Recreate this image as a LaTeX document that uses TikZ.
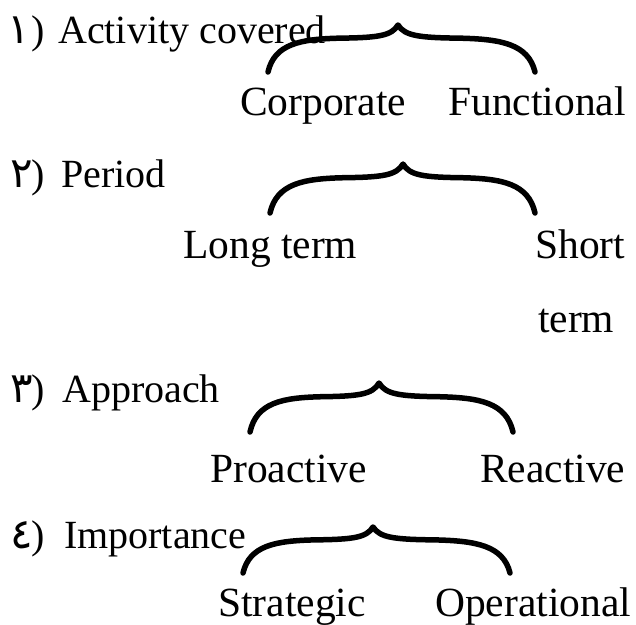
\documentclass[tikz,border=0pt]{standalone}
\usepackage{fontspec}
\setmainfont{Liberation Serif}
\newfontfamily\arabicfont[Script=Arabic]{DejaVu Sans}

% Curly brace opening downwards: #1 left x, #2 tip x, #3 right x, #4 tip y, #5 end y
\newcommand\curlybrace[5]{%
  \pgfmathsetmacro\braceh{#5-#4}%
  \pgfmathsetmacro\bracem{#4+0.28*\braceh}%
  \pgfmathsetmacro\bracewl{#2-#1}%
  \pgfmathsetmacro\bracewr{#3-#2}%
  \draw[bracestroke]
    (#1,#5) .. controls ({#1+0.05*\bracewl},{#5-0.6*\braceh}) and ({#1+0.25*\bracewl},{\bracem+0.02*\braceh}) .. ({#1+0.55*\bracewl},\bracem)
    .. controls ({#1+0.85*\bracewl},{\bracem-0.01*\braceh}) and ({#2-0.05*\bracewl},{\bracem-0.05*\braceh}) .. (#2,#4)
    .. controls ({#2+0.05*\bracewr},{\bracem-0.05*\braceh}) and ({#3-0.85*\bracewr},{\bracem-0.01*\braceh}) .. ({#3-0.55*\bracewr},\bracem)
    .. controls ({#3-0.25*\bracewr},{\bracem+0.02*\braceh}) and ({#3-0.05*\bracewr},{#5-0.6*\braceh}) .. (#3,#5);
}

\begin{document}
\begin{tikzpicture}[x=1pt,y=-1pt,
  bracestroke/.style={line width=5.5pt,line cap=round,line join=round},
  numeral/.style={anchor=base,inner sep=0pt,font=\arabicfont\fontsize{42}{48}\selectfont},
  paren/.style={anchor=base west,inner sep=0pt,font=\fontsize{40}{48}\selectfont},
  heading/.style={anchor=base west,inner sep=0pt,font=\fontsize{40}{48}\selectfont},
  item/.style={anchor=base west,inner sep=0pt,font=\fontsize{41.5}{50}\selectfont}]
  \fill[white] (0,0) rectangle (636,624);
  \useasboundingbox (0,0) rectangle (636,624);

  % 1) Activity covered
  \node[numeral] (n1) at (19,43) {١};
  \node[paren] (p1) at (31,43) {)};
  \node[heading] (h1) at (58,43) {Activity covered};
  \curlybrace{268}{398}{535}{25}{72}
  \node[item] (corp) at (240,115) {Corporate};
  \node[item] (func) at (448,115) {Functional};

  % 2) Period
  \node[numeral] (n2) at (22,187) {٢};
  \node[paren] (p2) at (31,187) {)};
  \node[heading] (h2) at (61,187) {Period};
  \curlybrace{270}{403}{535}{164}{213}
  \node[item] (long) at (183,258) {Long term};
  \node[item] (short) at (535,258) {Short};
  \node[item] (shortb) at (538,332) {term};

  % 3) Approach
  \node[numeral] (n3) at (22,402) {٣};
  \node[paren] (p3) at (31,402) {)};
  \node[heading] (h3) at (62,402) {Approach};
  \curlybrace{250}{379}{513}{383}{432}
  \node[item] (pro) at (210,482) {Proactive};
  \node[item] (re) at (480,482) {Reactive};

  % 4) Importance
  \node[numeral] (n4) at (22,548) {٤};
  \node[paren] (p4) at (31,548) {)};
  \node[heading] (h4) at (64,548) {Importance};
  \curlybrace{243}{373}{510}{527}{573}
  \node[item] (strat) at (218,616) {Strategic};
  \node[item] (oper) at (435,616) {Operational};
\end{tikzpicture}
\end{document}
